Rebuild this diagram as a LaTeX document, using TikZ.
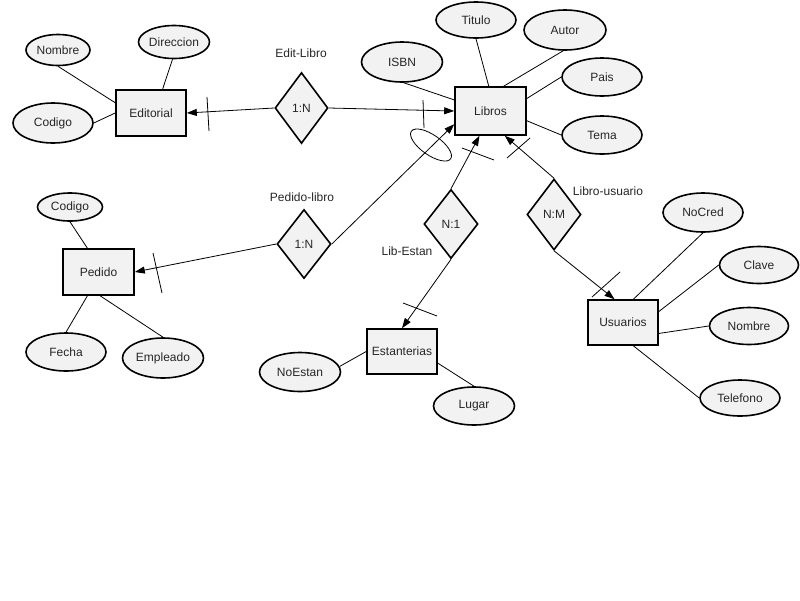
\documentclass[tikz,border=0pt]{standalone}
\usepackage{fontspec}
\setmainfont{Liberation Sans}
\usetikzlibrary{shapes.geometric,arrows.meta}
\begin{document}
\begin{tikzpicture}[x=1pt,y=-1pt,
  every node/.style={font=\fontsize{12}{14}\selectfont, text=black!85},
  ent/.style={draw, line width=1.6pt, fill=black!5, minimum width=70pt, minimum height=46pt, inner sep=0pt},
  attr/.style={draw, ellipse, line width=1.6pt, fill=black!5, minimum width=80pt, minimum height=38pt, inner sep=0pt},
  rel/.style={draw, diamond, aspect=0.76, line width=1.6pt, fill=black!5, minimum width=54pt, minimum height=70pt, inner sep=0pt},
  link/.style={line width=0.8pt},
  arr/.style={line width=0.8pt, -{Triangle[length=10pt,width=7pt]}},
  tickline/.style={line width=0.8pt},
  lbl/.style={inner sep=0pt}
]
\useasboundingbox (0,0) rectangle (800,600);

% Entities
\node[ent, minimum width=70pt, minimum height=46pt] (editorial) at (151,113) {Editorial};
\node[ent, minimum width=71pt, minimum height=48pt] (libros) at (490.5,111) {Libros};
\node[ent, minimum width=71pt, minimum height=46pt] (pedido) at (98.5,272) {Pedido};
\node[ent, minimum width=70pt, minimum height=45pt] (est) at (402,351.5) {Estanterias};
\node[ent, minimum width=70pt, minimum height=45pt] (usr) at (623,322.5) {Usuarios};

% Attributes
\node[attr, minimum width=64pt, minimum height=31pt] (nombre1) at (58,50) {Nombre};
\node[attr, minimum width=71pt, minimum height=33pt] (direccion) at (174,42) {Direccion};
\node[attr, minimum width=80pt, minimum height=40pt] (codigo1) at (53,123) {Codigo};

\node[attr, minimum width=81pt, minimum height=40pt] (isbn) at (402,62) {ISBN};
\node[attr, minimum width=80pt, minimum height=36pt] (titulo) at (476,20) {Titulo};
\node[attr, minimum width=82pt, minimum height=40pt] (autor) at (565,30) {Autor};
\node[attr, minimum width=80pt, minimum height=38pt] (pais) at (602,77) {Pais};
\node[attr, minimum width=80pt, minimum height=38pt] (tema) at (602,135) {Tema};

\node[attr, minimum width=65pt, minimum height=28pt] (codigo2) at (70,207) {Codigo};
\node[attr, minimum width=80pt, minimum height=38pt] (fecha) at (66,352) {Fecha};
\node[attr, minimum width=81pt, minimum height=40pt] (empleado) at (163,358) {Empleado};

\node[attr, minimum width=81pt, minimum height=39pt] (noestan) at (300,372) {NoEstan};
\node[attr, minimum width=81pt, minimum height=38pt] (lugar) at (474,406) {Lugar};

\node[attr, minimum width=80pt, minimum height=39pt] (nocred) at (703,212.5) {NoCred};
\node[attr, minimum width=79pt, minimum height=37pt] (clave) at (759,265) {Clave};
\node[attr, minimum width=79pt, minimum height=37pt] (nombre2) at (749,326) {Nombre};
\node[attr, minimum width=80pt, minimum height=36pt] (telefono) at (740,398) {Telefono};

% Relationships
\node[rel, minimum width=53pt, minimum height=71pt] (d1) at (301.5,108) {1:N};
\node[rel, minimum width=54pt, minimum height=69pt] (d2) at (304,244) {1:N};
\node[rel, minimum width=54pt, minimum height=69pt] (d3) at (451,224) {N:1};
\node[rel, minimum width=54pt, minimum height=71pt] (d4) at (554,214.5) {N:M};

% Relationship labels
\node[lbl] (l1) at (301,53) {Edit-Libro};
\node[lbl] (l2) at (302,197) {Pedido-libro};
\node[lbl] (l3) at (407,251) {Lib-Estan};
\node[lbl] (l4) at (608,191) {Libro-usuario};

% small oval
\node[draw, ellipse, line width=0.8pt, minimum width=48pt, minimum height=20pt, inner sep=0pt, rotate=-35] (oval) at (431,145) {};

% Attribute links
\draw[link] (nombre1.south) -- (editorial.164);
\draw[link] (direccion.265) -- (editorial.64);
\draw[link] (codigo1.east) -- (editorial.west);

\draw[link] (isbn.275) -- (libros.163);
\draw[link] (titulo.south) -- (libros.94);
\draw[link] (autor.265) -- (libros.62);
\draw[link] (pais.west) -- (libros.19);
\draw[link] (tema.west) -- (libros.-15);

\draw[link] (codigo2.south) -- (pedido.115);
\draw[link] (fecha.north) -- (pedido.245);
\draw[link] (empleado.north) -- (pedido.-86);

\draw[link] (noestan.8) -- (est.west);
\draw[link] (lugar.north) -- (est.-18);

\draw[link] (nocred.south) -- (usr.66);
\draw[link] (clave.west) -- (usr.17);
\draw[link] (nombre2.west) -- (usr.-17);
\draw[link] (telefono.west) -- (usr.-66);

% Relationship links
\draw[arr] (d1.west) -- (editorial.east);
\draw[arr] (d1.east) -- (libros.west);
\draw[arr] (d2.west) -- (pedido.east);
\draw[arr] (d2.east) -- (libros.200);
\draw[arr] (d3.north) -- (libros.246);
\draw[arr] (d3.south) -- (est.north);
\draw[arr] (d4.north) -- (libros.-60);
\draw[arr] (d4.south) -- (usr.110);

% Cardinality ticks
\draw[tickline] (207,97) -- (209,131);
\draw[tickline] (423,100) -- (424,128);
\draw[tickline] (153,253) -- (162,293);
\draw[tickline] (462,148) -- (494,160);
\draw[tickline] (403,303) -- (437,316);
\draw[tickline] (507,158) -- (530,138);
\draw[tickline] (592,297) -- (620,272);
\end{tikzpicture}
\end{document}
